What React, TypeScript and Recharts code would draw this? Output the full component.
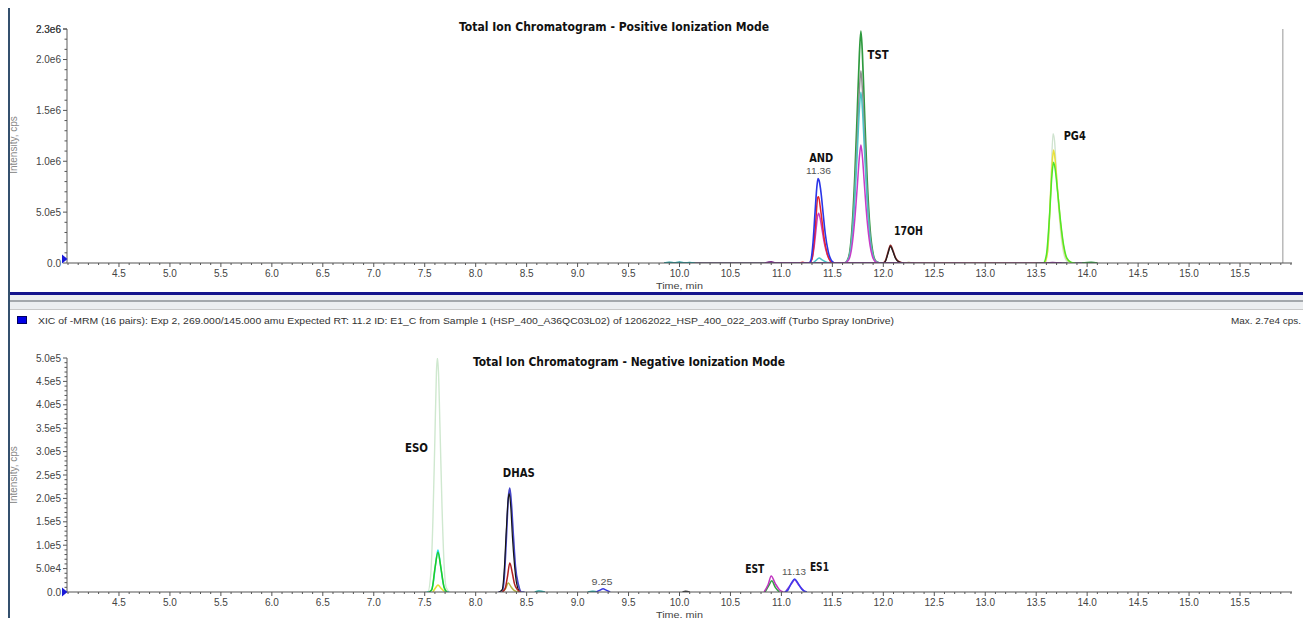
import React from "react";
import { LineChart, Line, XAxis, YAxis, ReferenceLine, ReferenceDot } from "recharts";

type Pt = [number, number | null];

// ---- axes ----
const majorTimeTicks = [4.5, 5.0, 5.5, 6.0, 6.5, 7.0, 7.5, 8.0, 8.5, 9.0, 9.5, 10.0, 10.5, 11.0, 11.5, 12.0, 12.5, 13.0, 13.5, 14.0, 14.5, 15.0, 15.5];
const timeTicks = Array.from({ length: 121 }, (_, i) => Math.round((4 + i * 0.1) * 10) / 10);

const posMajorY = [0, 500000, 1000000, 1500000, 2000000, 2300000];
const posYLabels = ["0.0", "5.0e5", "1.0e6", "1.5e6", "2.0e6", "2.3e6"];
const posYTicks = [...Array.from({ length: 24 }, (_, i) => i * 100000), 2300000];

const negMajorY = [0, 50000, 100000, 150000, 200000, 250000, 300000, 350000, 400000, 450000, 500000];
const negYLabels = ["0.0", "5.0e4", "1.0e5", "1.5e5", "2.0e5", "2.5e5", "3.0e5", "3.5e5", "4.0e5", "4.5e5", "5.0e5"];
const negYTicks = Array.from({ length: 51 }, (_, i) => i * 10000);

// ---- positive ionization traces: [time min, intensity cps] ----
const posBaseline: Pt[] = [[9.85, 0], [14.1, 0]];
const posTeal: Pt[] = [[9.85, 0], [9.9, 8000], [9.95, 0], [10.0, 10000], [10.05, 0], [10.1, 6000], [10.15, 0]];
const posPurple: Pt[] = [[10.84, 0], [10.9, 12000], [10.95, 0], [13.6, 0], [13.66, 5000], [13.75, 0]];
const posOlive: Pt[] = [[12.2, 0], [12.25, 6000], [12.3, 0]];
const posGreenNoise: Pt[] = [[13.95, 0], [14.04, 8000], [14.1, 0]];

const tstGreen: Pt[] = [[11.55, 0], [11.62, 0], [11.66, 60000], [11.69, 300000], [11.72, 850000], [11.745, 1500000], [11.765, 2050000], [11.78, 2280000], [11.795, 2050000], [11.815, 1500000], [11.84, 850000], [11.87, 330000], [11.9, 90000], [11.93, 15000], [11.97, 0], [12.0, 0]];
const tstGrey: Pt[] = [[11.62, 0], [11.66, 50000], [11.69, 250000], [11.72, 700000], [11.745, 1250000], [11.765, 1700000], [11.78, 1890000], [11.795, 1700000], [11.815, 1250000], [11.84, 700000], [11.87, 270000], [11.9, 70000], [11.93, 10000], [11.97, 0]];
const tstCyan: Pt[] = [[11.2, 0], [11.3, 0], [11.34, 25000], [11.37, 50000], [11.4, 30000], [11.45, 5000], [11.5, 0], [11.62, 0], [11.66, 45000], [11.69, 220000], [11.72, 630000], [11.745, 1100000], [11.765, 1510000], [11.78, 1680000], [11.795, 1510000], [11.815, 1100000], [11.84, 630000], [11.87, 240000], [11.9, 65000], [11.93, 10000], [11.97, 0]];
const magentaTrace: Pt[] = [[11.2, 0], [11.27, 0], [11.3, 40000], [11.32, 150000], [11.34, 330000], [11.355, 460000], [11.365, 490000], [11.38, 440000], [11.4, 320000], [11.42, 200000], [11.45, 80000], [11.48, 20000], [11.52, 0], [11.62, 0], [11.66, 30000], [11.69, 150000], [11.72, 430000], [11.745, 760000], [11.765, 1040000], [11.78, 1160000], [11.795, 1040000], [11.815, 760000], [11.84, 430000], [11.87, 170000], [11.9, 45000], [11.93, 8000], [11.97, 0]];
const andBlue: Pt[] = [[11.2, 0], [11.27, 0], [11.29, 30000], [11.31, 200000], [11.33, 500000], [11.35, 770000], [11.36, 830000], [11.37, 810000], [11.39, 680000], [11.41, 480000], [11.43, 290000], [11.46, 110000], [11.49, 25000], [11.52, 0]];
const andRed: Pt[] = [[11.18, 0], [11.21, 8000], [11.24, 0], [11.27, 0], [11.3, 40000], [11.32, 200000], [11.34, 450000], [11.355, 640000], [11.365, 650000], [11.38, 560000], [11.4, 400000], [11.42, 240000], [11.45, 90000], [11.48, 20000], [11.51, 0]];
const ohBrown: Pt[] = [[12.0, 0], [12.02, 20000], [12.045, 100000], [12.07, 175000], [12.095, 120000], [12.12, 50000], [12.15, 15000], [12.19, 0]];
const ohBlack: Pt[] = [[11.97, 0], [12.0, 0], [12.02, 15000], [12.045, 90000], [12.07, 160000], [12.095, 110000], [12.12, 45000], [12.15, 12000], [12.2, 0]];
const pgPale: Pt[] = [[13.59, 0], [13.62, 200000], [13.645, 800000], [13.665, 1270000], [13.68, 1200000], [13.7, 850000], [13.73, 420000], [13.76, 150000], [13.8, 20000], [13.84, 0]];
const pgYellow: Pt[] = [[12.3, 0], [12.5, 3000], [12.7, 0], [13.0, 3000], [13.3, 0], [13.5, 2000], [13.58, 0], [13.61, 100000], [13.635, 550000], [13.655, 950000], [13.67, 1110000], [13.685, 1020000], [13.71, 720000], [13.74, 380000], [13.77, 150000], [13.8, 40000], [13.85, 0]];
const pgGreen: Pt[] = [[13.5, 0], [13.57, 0], [13.6, 80000], [13.63, 450000], [13.655, 870000], [13.67, 990000], [13.685, 930000], [13.71, 700000], [13.74, 400000], [13.77, 170000], [13.8, 50000], [13.84, 8000], [13.88, 0]];

// ---- negative ionization traces ----
const esoPale: Pt[] = [[7.5, 0], [7.53, 0], [7.56, 40000], [7.58, 150000], [7.6, 330000], [7.615, 470000], [7.625, 500000], [7.635, 470000], [7.65, 350000], [7.67, 180000], [7.69, 60000], [7.71, 10000], [7.74, 0]];
const esoCyan: Pt[] = [[7.52, 0], [7.55, 0], [7.58, 15000], [7.61, 65000], [7.63, 90000], [7.65, 65000], [7.68, 20000], [7.71, 0], [7.74, 0]];
const esoGreen: Pt[] = [[7.54, 0], [7.57, 5000], [7.6, 50000], [7.63, 85000], [7.66, 50000], [7.69, 10000], [7.72, 0]];
const esoYellow: Pt[] = [[7.58, 0], [7.61, 10000], [7.63, 15000], [7.66, 8000], [7.7, 0]];
const dhasBlue: Pt[] = [[8.22, 0], [8.26, 0], [8.28, 30000], [8.3, 110000], [8.32, 200000], [8.335, 222000], [8.35, 190000], [8.37, 120000], [8.39, 55000], [8.42, 15000], [8.45, 0], [8.48, 0]];
const dhasBlack: Pt[] = [[8.23, 0], [8.26, 5000], [8.28, 45000], [8.3, 130000], [8.32, 200000], [8.33, 210000], [8.345, 180000], [8.36, 120000], [8.38, 60000], [8.4, 20000], [8.43, 0]];
const dhasRed: Pt[] = [[8.26, 0], [8.29, 8000], [8.31, 30000], [8.335, 62000], [8.36, 40000], [8.38, 18000], [8.41, 5000], [8.44, 0]];
const dhasOlive: Pt[] = [[8.26, 0], [8.29, 6000], [8.32, 19000], [8.35, 10000], [8.38, 3000], [8.42, 0]];
const negTeal: Pt[] = [[8.58, 0], [8.62, 2000], [8.68, 0], [8.7, null], [9.1, 0], [9.15, 1500], [9.2, 0]];
const negBlue: Pt[] = [[9.18, 0], [9.22, 4000], [9.25, 7000], [9.28, 4000], [9.32, 0]];
const negDark: Pt[] = [[10.03, 0], [10.06, 1500], [10.1, 0]];
const estMagenta: Pt[] = [[10.83, 0], [10.87, 16000], [10.9, 34000], [10.94, 18000], [10.98, 5000], [11.02, 0]];
const estGreen: Pt[] = [[10.84, 0], [10.88, 15000], [10.905, 24000], [10.94, 10000], [10.98, 0]];
const es1Blue: Pt[] = [[11.03, 0], [11.06, 3000], [11.1, 20000], [11.13, 28000], [11.16, 20000], [11.2, 6000], [11.25, 0]];
const es1Purple: Pt[] = [[11.04, 0], [11.1, 18000], [11.13, 26000], [11.17, 15000], [11.23, 0]];

// ---- peak annotations ----
const posNames = [
  { text: "TST", t: 11.845, v: 2010000, w: 21, anchor: "start" },
  { text: "AND", t: 11.39, v: 993000, w: 24, anchor: "middle" },
  { text: "17OH", t: 12.104, v: 275000, w: 29, anchor: "start" },
  { text: "PG4", t: 13.77, v: 1206000, w: 22, anchor: "start" },
];
const posRts = [{ text: "11.36", t: 11.364, v: 873000, w: 25 }];
const negNames = [
  { text: "ESO", t: 7.307, v: 299000, w: 23, anchor: "start" },
  { text: "DHAS", t: 8.266, v: 246000, w: 32, anchor: "start" },
  { text: "EST", t: 10.645, v: 40000, w: 19, anchor: "start" },
  { text: "ES1", t: 11.28, v: 45500, w: 19, anchor: "start" },
];
const negRts = [
  { text: "9.25", t: 9.24, v: 15000, w: 21 },
  { text: "11.13", t: 11.124, v: 36000, w: 24 },
];

const SANS = '"Liberation Sans", Arial, Helvetica, sans-serif';
const NARROW = '"Liberation Sans Narrow", "Arial Narrow", "DejaVu Sans Condensed", sans-serif';

const toPts = (arr: Pt[]) => arr.map(([t, v]) => ({ t, v }));

function TimeTick({ x, y, payload }: any) {
  const v = Math.round(payload.value * 10) / 10;
  const major = majorTimeTicks.includes(v);
  return (
    <g>
      <line x1={x} x2={x} y1={y} y2={y + (major ? 4 : 2)} stroke="#555" strokeWidth={1} />
      {major && (
        <text x={x} y={y + 13.5} textAnchor="middle" fontSize={10} fill="#444" fontFamily={SANS}>
          {v.toFixed(1)}
        </text>
      )}
    </g>
  );
}

function makeYTick(majors: number[], labels: string[], markerDy: number) {
  return function YTick({ x, y, payload }: any) {
    const idx = majors.findIndex((m) => Math.abs(m - payload.value) < 1);
    const major = idx >= 0;
    return (
      <g>
        <line x1={x - (major ? 4 : 2.5)} x2={x} y1={y} y2={y} stroke="#555" strokeWidth={1} />
        {major && (
          <text x={x - 6} y={y + 3.5} textAnchor="end" fontSize={10} fill="#444" fontFamily={SANS}>
            {labels[idx]}
          </text>
        )}
        {payload.value === 0 && (
          <polygon
            points={`${x - 5},${y + markerDy - 4.5} ${x - 5},${y + markerDy + 4.5} ${x + 0.5},${y + markerDy}`}
            fill="#1818d8"
          />
        )}
      </g>
    );
  };
}

const PosYTick = makeYTick(posMajorY, posYLabels, -4);
const NegYTick = makeYTick(negMajorY, negYLabels, 0);

function nameShape(text: string, w: number, anchor: string) {
  return (p: any) => (
    <text
      x={p.cx}
      y={p.cy}
      textAnchor={anchor}
      fontSize={13}
      fontWeight="bold"
      fill="#111"
      fontFamily={NARROW}
      textLength={w}
      lengthAdjust="spacingAndGlyphs"
    >
      {text}
    </text>
  );
}

function rtShape(text: string, w: number) {
  return (p: any) => (
    <text
      x={p.cx}
      y={p.cy}
      textAnchor="middle"
      fontSize={9.5}
      fill="#555"
      fontFamily={SANS}
      textLength={w}
      lengthAdjust="spacingAndGlyphs"
    >
      {text}
    </text>
  );
}

function trace(key: string, data: Pt[], color: string, width = 1.5) {
  return (
    <Line
      key={key}
      data={toPts(data)}
      dataKey="v"
      type="monotone"
      stroke={color}
      strokeWidth={width}
      dot={false}
      activeDot={false}
      isAnimationActive={false}
      connectNulls={false}
    />
  );
}

const X_DOMAIN: [number, number] = [3.99, 16.01];

export default function App() {
  return (
    <div style={{ position: "relative", width: 1311, height: 626, margin: -8, overflow: "hidden", background: "#fff" }}>
      {/* window frames */}
      <div style={{ position: "absolute", left: 7, top: 0, width: 1304, height: 3, background: "#34506e" }} />
      <div style={{ position: "absolute", left: 7, top: 0, width: 3, height: 626, background: "#34506e" }} />
      <div style={{ position: "absolute", left: 1303, top: 2, width: 4, height: 294, background: "#14148c" }} />
      <div style={{ position: "absolute", left: 1307, top: 0, width: 4, height: 626, background: "#4a6282" }} />
      <div style={{ position: "absolute", left: 10, top: 292, width: 1297, height: 3, background: "#14148c" }} />
      <div style={{ position: "absolute", left: 10, top: 295, width: 1297, height: 15, background: "#eceef0" }} />
      <div style={{ position: "absolute", left: 10, top: 300, width: 1297, height: 2, background: "#a4a8ac" }} />
      <div style={{ position: "absolute", left: 10, top: 309, width: 1297, height: 1, background: "#c8c8c8" }} />
      <div style={{ position: "absolute", left: 10, top: 621, width: 1297, height: 2, background: "#b0b0b0" }} />
      <div style={{ position: "absolute", left: 10, top: 623, width: 1297, height: 3, background: "#eef0f2" }} />
      <div style={{ position: "absolute", left: 17, top: 316, width: 8, height: 6, background: "#0000e6", border: "1px solid #000060" }} />

      {/* positive mode */}
      <div style={{ position: "absolute", left: 0, top: 0 }}>
        <LineChart width={1300} height={295} margin={{ top: 29, right: 8, left: 0, bottom: 0 }}>
          <XAxis
            type="number"
            dataKey="t"
            domain={X_DOMAIN}
            ticks={timeTicks}
            interval={0}
            height={32}
            tickSize={0}
            tickMargin={0}
            tickLine={false}
            axisLine={{ stroke: "#555", strokeWidth: 1.2 }}
            tick={<TimeTick />}
            allowDataOverflow
          />
          <YAxis
            type="number"
            domain={[0, 2300000]}
            ticks={posYTicks}
            interval={0}
            width={67}
            tickSize={0}
            tickMargin={0}
            tickLine={false}
            axisLine={{ stroke: "#777", strokeWidth: 1.2 }}
            tick={<PosYTick />}
            allowDataOverflow
          />
          <ReferenceLine x={15.92} stroke="#a8a8a8" strokeWidth={1.2} />
          {trace("posBaseline", posBaseline, "#4a3560", 1.5)}
          {trace("posTeal", posTeal, "#1a9a9a")}
          {trace("posOlive", posOlive, "#9a9a30")}
          {trace("pgPale", pgPale, "#cfe3cf", 1.4)}
          {trace("pgYellow", pgYellow, "#e8e03a")}
          {trace("pgGreen", pgGreen, "#4ee62a")}
          {trace("posGreenNoise", posGreenNoise, "#2f9a3f")}
          {trace("tstGreen", tstGreen, "#2f9a3f", 1.7)}
          {trace("tstGrey", tstGrey, "#8f8f8f")}
          {trace("tstCyan", tstCyan, "#4cc3c7")}
          {trace("magenta", magentaTrace, "#c83cc8")}
          {trace("andRed", andRed, "#e5252a")}
          {trace("andBlue", andBlue, "#2b35e8", 1.6)}
          {trace("ohBrown", ohBrown, "#8a1f1f", 1.6)}
          {trace("ohBlack", ohBlack, "#202020", 1.2)}
          {trace("posPurple", posPurple, "#7a2a8a")}
          {posNames.map((n) => (
            <ReferenceDot key={n.text} x={n.t} y={n.v} r={0} shape={nameShape(n.text, n.w, n.anchor)} />
          ))}
          {posRts.map((n) => (
            <ReferenceDot key={n.text} x={n.t} y={n.v} r={0} shape={rtShape(n.text, n.w)} />
          ))}
        </LineChart>
      </div>

      {/* negative mode */}
      <div style={{ position: "absolute", left: 0, top: 311 }}>
        <LineChart width={1300} height={311} margin={{ top: 47, right: 8, left: 0, bottom: 0 }}>
          <XAxis
            type="number"
            dataKey="t"
            domain={X_DOMAIN}
            ticks={timeTicks}
            interval={0}
            height={30}
            tickSize={0}
            tickMargin={0}
            tickLine={false}
            axisLine={{ stroke: "#555", strokeWidth: 1.2 }}
            tick={<TimeTick />}
            allowDataOverflow
          />
          <YAxis
            type="number"
            domain={[0, 500000]}
            ticks={negYTicks}
            interval={0}
            width={67}
            tickSize={0}
            tickMargin={0}
            tickLine={false}
            axisLine={{ stroke: "#777", strokeWidth: 1.2 }}
            tick={<NegYTick />}
            allowDataOverflow
          />
          {trace("esoPale", esoPale, "#cfe8cf", 1.4)}
          {trace("esoYellow", esoYellow, "#e5e030")}
          {trace("esoCyan", esoCyan, "#22e0ee")}
          {trace("esoGreen", esoGreen, "#22cc22")}
          {trace("dhasOlive", dhasOlive, "#b5b540")}
          {trace("dhasBlue", dhasBlue, "#4545c8", 1.7)}
          {trace("dhasBlack", dhasBlack, "#151515", 1.2)}
          {trace("dhasRed", dhasRed, "#b22222")}
          {trace("negTeal", negTeal, "#1fa3a3")}
          {trace("negBlue", negBlue, "#3a3ae0")}
          {trace("negDark", negDark, "#333333")}
          {trace("estGreen", estGreen, "#30a040")}
          {trace("estMagenta", estMagenta, "#c035c0")}
          {trace("es1Purple", es1Purple, "#8a3ad0")}
          {trace("es1Blue", es1Blue, "#3a3af0")}
          {negNames.map((n) => (
            <ReferenceDot key={n.text} x={n.t} y={n.v} r={0} shape={nameShape(n.text, n.w, n.anchor)} />
          ))}
          {negRts.map((n) => (
            <ReferenceDot key={n.text} x={n.t} y={n.v} r={0} shape={rtShape(n.text, n.w)} />
          ))}
        </LineChart>
      </div>

      {/* titles and captions */}
      <svg width={1311} height={626} style={{ position: "absolute", left: 0, top: 0, pointerEvents: "none" }}>
        <defs>
          <clipPath id="frameClip">
            <rect x={10} y={0} width={1293} height={626} />
          </clipPath>
        </defs>
        <text x={459} y={30.5} fontSize={12.5} fontWeight="bold" fill="#111" fontFamily={NARROW} textLength={310} lengthAdjust="spacingAndGlyphs">
          Total Ion Chromatogram - Positive Ionization Mode
        </text>
        <text x={473} y={366} fontSize={12.5} fontWeight="bold" fill="#111" fontFamily={NARROW} textLength={312} lengthAdjust="spacingAndGlyphs">
          Total Ion Chromatogram - Negative Ionization Mode
        </text>
        <text x={38} y={324} fontSize={9} fill="#333" fontFamily={SANS} textLength={856} lengthAdjust="spacingAndGlyphs">
          XIC of -MRM (16 pairs): Exp 2, 269.000/145.000 amu Expected RT: 11.2 ID: E1_C from Sample 1 (HSP_400_A36QC03L02) of 12062022_HSP_400_022_203.wiff (Turbo Spray IonDrive)
        </text>
        <text x={1231} y={324} fontSize={9} fill="#333" fontFamily={SANS} textLength={70} lengthAdjust="spacingAndGlyphs">
          Max. 2.7e4 cps.
        </text>
        <text x={656} y={288.5} fontSize={9.5} fill="#444" fontFamily={SANS} textLength={47} lengthAdjust="spacingAndGlyphs">
          Time, min
        </text>
        <text x={656} y={617.5} fontSize={9.5} fill="#444" fontFamily={SANS} textLength={47} lengthAdjust="spacingAndGlyphs">
          Time, min
        </text>
        <g clipPath="url(#frameClip)">
          <text transform="translate(16.5,145) rotate(-90)" textAnchor="middle" fontSize={10} fill="#8a8a8a" fontFamily={SANS}>
            Intensity, cps
          </text>
          <text transform="translate(16.5,475) rotate(-90)" textAnchor="middle" fontSize={10} fill="#8a8a8a" fontFamily={SANS}>
            Intensity, cps
          </text>
        </g>
      </svg>
    </div>
  );
}
